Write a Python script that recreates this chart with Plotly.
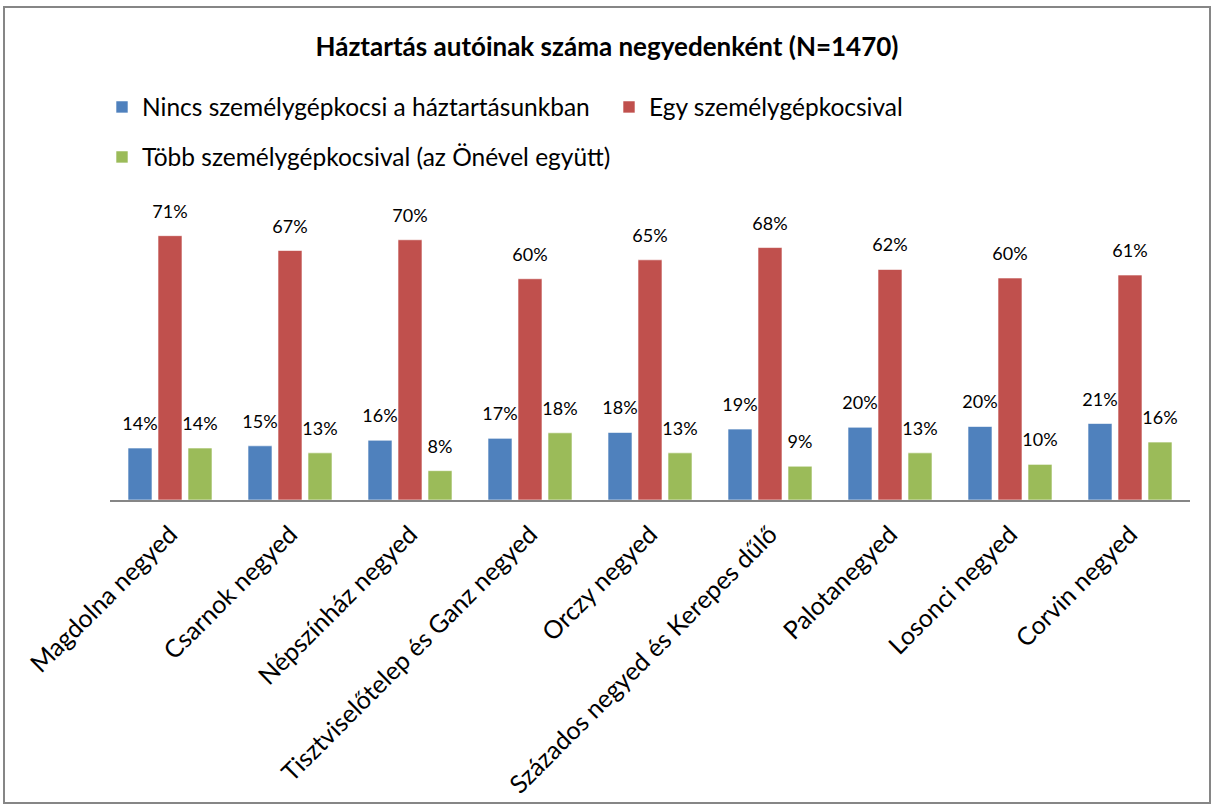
import plotly.graph_objects as go

categories = ["Magdolna negyed", "Csarnok negyed", "Népszínház negyed",
              "Tisztviselőtelep és Ganz negyed", "Orczy negyed",
              "Százados negyed és Kerepes dűlő", "Palotanegyed",
              "Losonci negyed", "Corvin negyed"]
series_names = ["Nincs személygépkocsi a háztartásunkban",
                "Egy személygépkocsival",
                "Több személygépkocsival (az Önével együtt)"]
nincs = [14.0, 14.6, 16.1, 16.6, 18.2, 19.1, 19.6, 19.8, 20.6]
egy = [71.2, 67.2, 70.1, 59.6, 64.7, 68.0, 62.1, 59.8, 60.6]
tobb = [14.0, 12.7, 7.9, 18.1, 12.7, 9.1, 12.7, 9.6, 15.6]
colors = ["#4F81BD", "#C0504D", "#9BBB59"]

FONT = "Lato, 'Open Sans', sans-serif"

fig = go.Figure()
for i, (name, vals, col, lg) in enumerate(zip(series_names, [nincs, egy, tobb], colors,
                                              ["legend", "legend", "legend2"])):
    fig.add_trace(go.Bar(
        x=categories, y=vals, name=name, legend=lg,
        offsetgroup=str(i),
        marker=dict(color=col, line=dict(color="rgba(255,255,255,0.6)", width=1)),
        hoverinfo="skip",
    ))
for i, vals in enumerate([nincs, egy, tobb]):
    fig.add_trace(go.Scatter(
        x=categories, y=vals, mode="markers+text", offsetgroup=str(i),
        marker=dict(size=20, opacity=0),
        texttemplate="%{y:.0f}%", textposition="top center",
        textfont=dict(size=18, color="#000000", family=FONT),
        showlegend=False, hoverinfo="skip", cliponaxis=False,
    ))

H = 297.0
fig.update_layout(
    width=1214, height=807,
    margin=dict(l=110, r=24, t=203, b=307),
    paper_bgcolor="white", plot_bgcolor="white",
    barmode="group", bargap=0.25, bargroupgap=0.2,
    scattermode="group", scattergap=0.25,
    font=dict(family=FONT, color="#000000"),
    title=dict(text="<b>Háztartás autóinak száma negyedenként (N=1470)</b>",
               x=0.5, xanchor="center", y=1 - 47 / 807, yanchor="middle",
               font=dict(size=26, family=FONT)),
    legend=dict(orientation="h", x=-8 / 1080, xanchor="left",
                y=(500 - 107) / H, yanchor="middle",
                entrywidth=462, entrywidthmode="pixels",
                font=dict(size=24.5, family=FONT), bgcolor="rgba(0,0,0,0)"),
    legend2=dict(orientation="h", x=-8 / 1080, xanchor="left",
                 y=(500 - 157) / H, yanchor="middle",
                 font=dict(size=24.5, family=FONT), bgcolor="rgba(0,0,0,0)"),
    xaxis=dict(tickangle=-45, tickfont=dict(size=25, family=FONT),
               showline=True, linecolor="#868686", linewidth=2,
               ticks="", showgrid=False, ticklabelstandoff=8, automargin=False),
    yaxis=dict(range=[0, 80], visible=False, showgrid=False, automargin=False),
    showlegend=True,
)

fig.add_shape(type="rect", xref="paper", yref="paper",
              x0=(4 - 110) / 1080, x1=(1210 - 110) / 1080,
              y0=(500 - 803) / H, y1=(500 - 7) / H,
              line=dict(color="#868686", width=2), fillcolor="rgba(0,0,0,0)",
              layer="below")

fig.write_html("out.html", config={"displayModeBar": False},
               post_script="document.body.style.margin='0';document.body.style.overflow='hidden';")
